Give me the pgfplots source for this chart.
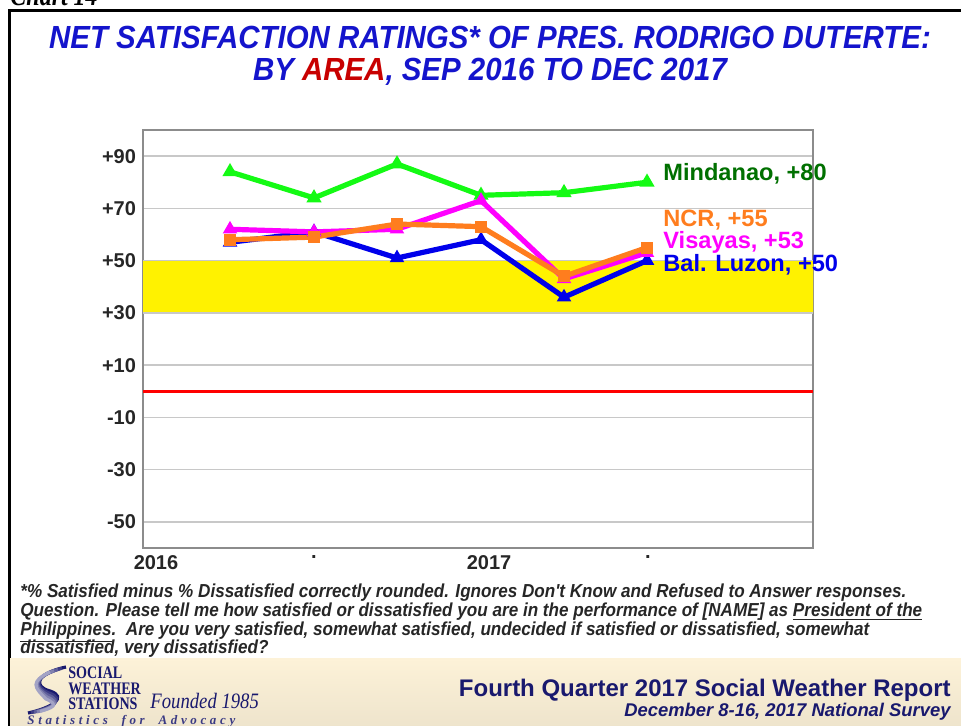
\documentclass[border=0pt]{standalone}
\usepackage{pgfplots}
\pgfplotsset{compat=1.18}
\usepackage{fontspec}
\setmainfont{Liberation Sans}
\newfontfamily\titlefont[FakeStretch=0.92]{Liberation Sans}
\newfontfamily\notefont[FakeStretch=0.91]{Liberation Sans}
\newfontfamily\logofont[FakeStretch=0.8]{Liberation Serif}
\newfontfamily\foundedfont[FakeStretch=0.85]{Liberation Serif}
\newfontfamily\spacedfont[LetterSpace=28]{Liberation Serif}
\definecolor{ttlblue}{RGB}{20,20,204}
\definecolor{ttlred}{RGB}{200,0,0}
\definecolor{lgreen}{RGB}{20,250,20}
\definecolor{dgreen}{RGB}{0,112,0}
\definecolor{ncr}{RGB}{255,125,30}
\definecolor{vis}{RGB}{255,0,255}
\definecolor{luz}{RGB}{0,0,235}
\definecolor{navy}{RGB}{25,25,110}
\definecolor{beige1}{RGB}{253,242,216}
\definecolor{beige2}{RGB}{238,228,204}
\definecolor{gridg}{RGB}{200,200,200}
\definecolor{axg}{RGB}{140,140,140}
\begin{document}
\begin{tikzpicture}
\useasboundingbox (0pt,0pt) rectangle (480.5pt,-363pt);
\begin{scope}[x=0.5pt,y=-0.5pt]
% chart number (cut off at top, as in the reference)
\node[anchor=base west, inner sep=0, font=\logofont\fontsize{15}{18}\selectfont\bfseries\itshape] at (10,6) {Chart 14};
% frame
\draw[line width=1.5pt] (9,726) -- (9,11) -- (965,11);
% footer band
\shade[top color=beige1, bottom color=beige2] (10,658) rectangle (962,727);
% title
\node[anchor=base, inner sep=0, text=ttlblue, font=\titlefont\fontsize{16}{19}\selectfont\bfseries\itshape] at (490,49) {NET SATISFACTION RATINGS* OF PRES. RODRIGO DUTERTE:};
\node[anchor=base, inner sep=0, text=ttlblue, font=\titlefont\fontsize{16}{19}\selectfont\bfseries\itshape] at (490,81) {BY \textcolor{ttlred}{AREA}, SEP 2016 TO DEC 2017};
% footnote
\begin{scope}[every node/.style={anchor=base west, inner sep=0, text=black!85, font=\notefont\fontsize{9.4}{11}\selectfont\bfseries\itshape}]
\node at (20,597) {*\% Satisfied minus \% Dissatisfied correctly rounded. Ignores Don't Know and Refused to Answer responses.};
\node at (20,616) {Question. Please tell me how satisfied or dissatisfied you are in the performance of [NAME] as \underline{President of the}};
\node at (20,635) {\underline{Philippines}.\ \ Are you very satisfied, somewhat satisfied, undecided if satisfied or dissatisfied, somewhat};
\node at (20,653) {dissatisfied, very dissatisfied?};
\end{scope}
% footer texts
\node[anchor=base east, inner sep=0, text=navy, font=\fontsize{12}{14}\selectfont\bfseries] at (951,696) {Fourth Quarter 2017 Social Weather Report};
\node[anchor=base east, inner sep=0, text=navy, font=\fontsize{9.2}{11}\selectfont\bfseries\itshape] at (951,716) {December 8-16, 2017 National Survey};
% logo
\foreach \i/\c in {0/navy,1/navy!85,2/navy!70,3/navy!55,4/navy!40}{
  \draw[line width=1.6pt, \c] (66-\i*4,667+\i*1.2) .. controls (34-\i*1,674+\i*2) and (34,687) .. (50-\i*1,691+\i*2) .. controls (68-\i*2,697+\i*2) and (52,708) .. (28+\i*3,713-\i*0.4);
}
\node[anchor=base west, inner sep=0, text=navy, font=\logofont\fontsize{8.8}{10}\selectfont\bfseries] at (68,678) {SOCIAL};
\node[anchor=base west, inner sep=0, text=navy, font=\logofont\fontsize{8.8}{10}\selectfont\bfseries] at (68,694) {WEATHER};
\node[anchor=base west, inner sep=0, text=navy, font=\logofont\fontsize{8.8}{10}\selectfont\bfseries] at (68,709) {STATIONS};
\node[anchor=base west, inner sep=0, text=navy, font=\foundedfont\fontsize{11}{12}\selectfont\itshape] at (150,708) {Founded 1985};
\node[anchor=base west, inner sep=0, text=navy!85, font=\spacedfont\fontsize{6.5}{7}\selectfont\bfseries\itshape] at (27,724) {Statistics\ \ for\ \ Advocacy};
\end{scope}
\begin{axis}[
  at={(71.5pt,-274pt)}, anchor=south west,
  scale only axis, width=335pt, height=209pt,
  xmin=143, xmax=813, ymin=-60, ymax=100,
  xtick={156,314,489,648}, xticklabels={2016,.,2017,.},
  ytick={-50,-30,-10,10,30,50,70,90},
  yticklabels={-50,-30,-10,+10,+30,+50,+70,+90},
  major tick length=0pt,
  ymajorgrids, grid style={gridg, line width=0.75pt},
  axis line style={axg, line width=0.6pt},
  tick label style={font=\fontsize{10}{12}\selectfont\bfseries, text=black!85},
  clip=false,
]
\addplot[draw=none, fill=yellow] coordinates {(143,30)(813,30)(813,50)(143,50)(143,30)};
\addplot[gridg, line width=0.75pt] coordinates {(143,30)(813,30)};
\addplot[gridg, line width=0.75pt] coordinates {(143,50)(813,50)};
\addplot[red, line width=1.5pt] coordinates {(143,0)(813,0)};
% Mindanao
\addplot[lgreen, line width=2.6pt, mark=triangle*, mark size=1.8pt] coordinates {(230,84)(314,74)(397,87)(481,75)(564,76)(647,80)};
% Bal. Luzon
\addplot[luz, line width=2.6pt, mark=triangle*, mark size=1.6pt] coordinates {(230,57)(314,61)(397,51)(481,58)(564,36)(647,50)};
% Visayas
\addplot[vis, line width=2.6pt, mark=triangle*, mark size=1.6pt] coordinates {(230,62)(314,61)(397,62)(481,73)(564,43)(647,53)};
% NCR
\addplot[ncr, line width=2.6pt, mark=square*, mark size=1.7pt] coordinates {(230,58)(314,59)(397,64)(481,63)(564,44)(647,55)};
\node[anchor=west, inner sep=0, text=dgreen, font=\fontsize{11.8}{13}\selectfont\bfseries] at (axis cs:663,83.3) {Mindanao, +80};
\node[anchor=west, inner sep=0, text=ncr, font=\fontsize{11.8}{13}\selectfont\bfseries] at (axis cs:663,65.6) {NCR, +55};
\node[anchor=west, inner sep=0, text=vis, font=\fontsize{11.8}{13}\selectfont\bfseries] at (axis cs:663,56.9) {Visayas, +53};
\node[anchor=west, inner sep=0, text=luz, font=\fontsize{11.8}{13}\selectfont\bfseries] at (axis cs:663,48.3) {Bal. Luzon, +50};
\end{axis}
\end{tikzpicture}
\end{document}
